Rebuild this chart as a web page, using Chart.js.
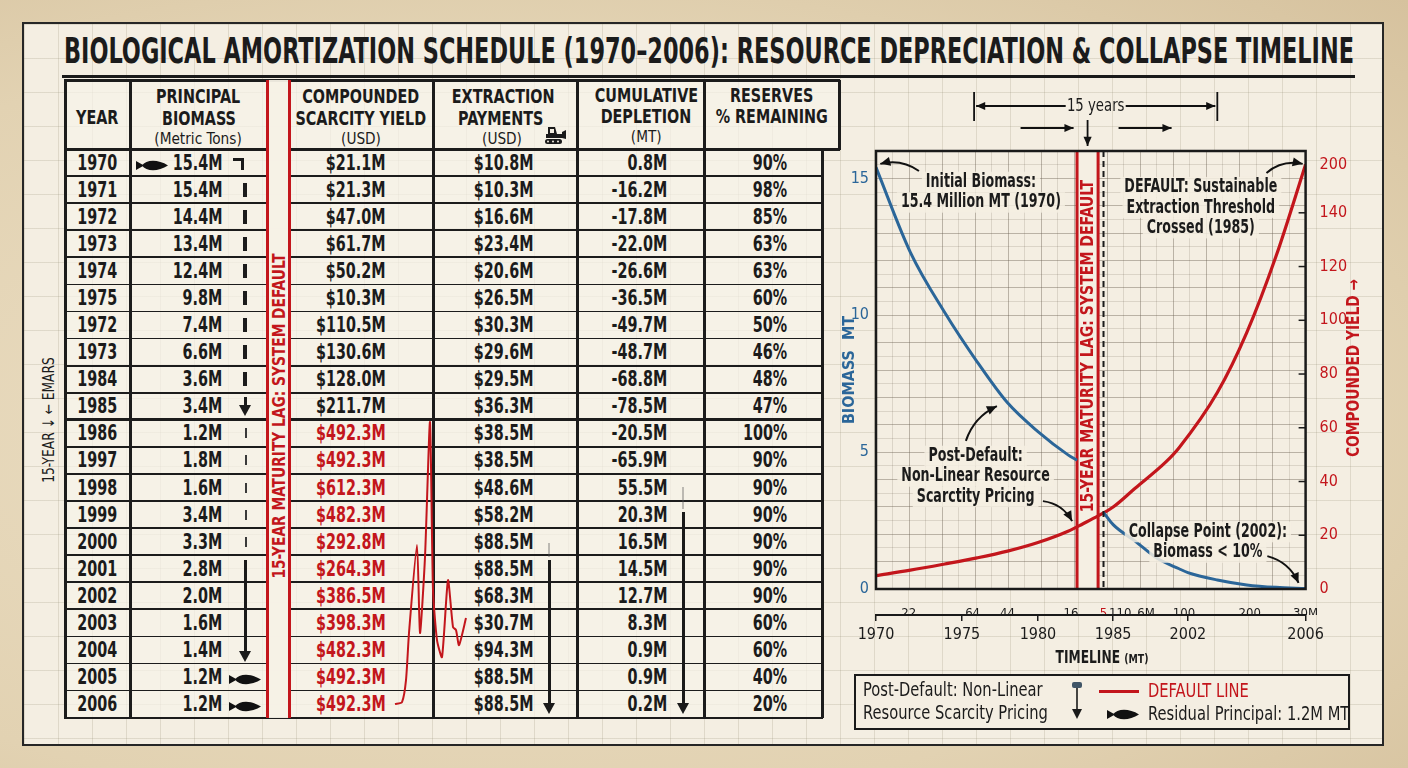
<!DOCTYPE html>
<html lang="en">
<head>
<meta charset="utf-8">
<title>Biological Amortization Schedule</title>
<script src="https://cdn.jsdelivr.net/npm/chart.js@4.4.1/dist/chart.umd.min.js"></script>
<style>
  html, body { margin: 0; padding: 0; }
  body {
    width: 1408px; height: 768px; position: relative; overflow: hidden;
    background: radial-gradient(ellipse at 35% 55%, #ecdfc5 0%, #e2d2b2 65%, #d6c29e 100%);
    font-family: "Liberation Sans Narrow", "DejaVu Sans Condensed", "Liberation Sans", sans-serif;
    color: #1b1b1b;
  }
  .abs { position: absolute; }
  .sq { display: inline-block; white-space: nowrap; }
  #sheet {
    left: 22px; top: 22px; width: 1358px; height: 720px; border: 2px solid #262626;
    background-color: #f4eee2;
    background-image:
      linear-gradient(to right, rgba(150,138,115,.22) 1px, transparent 1px),
      linear-gradient(to bottom, rgba(150,138,115,.22) 1px, transparent 1px);
    background-size: 34px 34px;
  }
  #title { left: 64px; top: 30px; height: 42px; line-height: 42px; white-space: nowrap; font-weight: bold; font-size: 35px; }
  #titleText { display: inline-block; transform-origin: left center; }
  #rule { left: 62px; top: 75px; width: 1293px; height: 3px; background: #1a1a1a; }
  .hd { font-weight: bold; font-size: 19px; }
  .sub { font-size: 16px; }
  .cell { font-weight: bold; font-size: 21px; }
  #legend { left: 854px; top: 674px; width: 492px; height: 52px; border: 2px solid #1a1a1a; background: #f4eee2; font-size: 19px; }
  #legend .sq { transform: scaleX(0.86); transform-origin: left center; }
</style>
</head>
<body>
<div id="sheet" class="abs"></div>
<div id="title" class="abs"><span id="titleText">BIOLOGICAL AMORTIZATION SCHEDULE (1970–2006): RESOURCE DEPRECIATION &amp; COLLAPSE TIMELINE</span></div>
<div id="rule" class="abs"></div>
<div id="table" class="abs" style="left:0;top:0;"></div>
<canvas id="spark" class="abs" width="80" height="298" style="left:390px;top:419px;"></canvas>
<canvas id="chart" class="abs" width="540" height="590" style="left:838px;top:84px;"></canvas>
<div class="abs" style="left:1002px;top:646px;width:200px;text-align:center;line-height:22px;font-weight:bold;font-size:17px;">
  <span class="sq" style="transform:scaleX(0.8);">TIMELINE <span style="font-size:13px;">(MT)</span></span>
</div>
<div id="legend" class="abs">
  <div class="abs" style="left:7px;top:2px;line-height:23px;"><span class="sq">Post-Default: Non-Linear</span><br><span class="sq">Resource Scarcity Pricing</span></div>
  <svg class="abs" style="left:214px;top:6px;" width="14" height="38" viewBox="0 0 14 38">
    <rect x="2" y="0" width="10" height="6" rx="2" fill="#3f5466"/>
    <line x1="7" y1="6" x2="7" y2="28" stroke="#1a1a1a" stroke-width="1.6"/>
    <path d="M2 27 L12 27 L7 37 Z" fill="#1a1a1a"/>
  </svg>
  <div class="abs" style="left:243px;top:14px;width:40px;height:3px;background:#c3161c;"></div>
  <div class="abs" style="left:292px;top:3px;line-height:23px;color:#c3161c;"><span class="sq">DEFAULT LINE</span></div>
  <svg class="abs" style="left:251px;top:32px;" width="32" height="13" viewBox="0 0 32 13">
    <path d="M0 2 L8 6.5 L0 11 Z M6 6.5 C10 0.5 22 0 32 6.5 C22 13 10 12.5 6 6.5 Z" fill="#111"/>
  </svg>
  <div class="abs" style="left:292px;top:26px;line-height:23px;"><span class="sq">Residual Principal: 1.2M MT</span></div>
</div>
<div class="abs" style="left:48px;top:420px;transform:translate(-50%,-50%) rotate(-90deg) scaleX(0.85);white-space:nowrap;font-size:16px;">15-YEAR ↓ ← EMARS</div>

<script>
// ---- table values ----
const rowYears = [1970, 1971, 1972, 1973, 1974, 1975, 1972, 1973, 1984, 1985, 1986, 1997, 1998, 1999, 2000, 2001, 2002, 2003, 2004, 2005, 2006];
const principalBiomass = [15.4, 15.4, 14.4, 13.4, 12.4, 9.8, 7.4, 6.6, 3.6, 3.4, 1.2, 1.8, 1.6, 3.4, 3.3, 2.8, 2.0, 1.6, 1.4, 1.2, 1.2];
const scarcityYield = [21.1, 21.3, 47.0, 61.7, 50.2, 10.3, 110.5, 130.6, 128.0, 211.7, 492.3, 492.3, 612.3, 482.3, 292.8, 264.3, 386.5, 398.3, 482.3, 492.3, 492.3];
const extractionPayments = [10.8, 10.3, 16.6, 23.4, 20.6, 26.5, 30.3, 29.6, 29.5, 36.3, 38.5, 38.5, 48.6, 58.2, 88.5, 88.5, 68.3, 30.7, 94.3, 88.5, 88.5];
const cumulativeDepletion = [0.8, -16.2, -17.8, -22.0, -26.6, -36.5, -49.7, -48.7, -68.8, -78.5, -20.5, -65.9, 55.5, 20.3, 16.5, 14.5, 12.7, 8.3, 0.9, 0.9, 0.2];
const reservesPct = [90, 98, 85, 63, 63, 60, 50, 46, 48, 47, 100, 90, 90, 90, 90, 90, 90, 60, 60, 40, 20];
const defaultRow = 10; // first post-default row

// ---- chart values ----
const biomassYears = [1970, 1972, 1974, 1976, 1978, 1980, 1982, 1982.6, 1983.3, 1984.36, 1985, 1990, 1995, 2000, 2002, 2003, 2004, 2005, 2006];
const biomassMT = [15.4, 12.3, 10.1, 8.3, 6.8, 5.75, 4.9, 4.7, null, 2.8, 2.35, 1.75, 1.12, 0.74, 0.6, 0.33, 0.15, 0.06, 0.02];
const yieldYears = [1970, 1972, 1974, 1976, 1978, 1980, 1982, 1983, 1984, 1985, 1990, 1997, 2000, 2003, 2004, 2005, 2006];
const compoundedYield = [5.0, 7.0, 9.3, 11.6, 14.1, 17.3, 21.5, 24.3, 27.2, 30.5, 37.5, 47.3, 52.6, 73.1, 95.4, 124, 158];
const yearTicks = [1970, 1975, 1980, 1985, 2002, 2006];
const subTickYears = [1971.9, 1975.7, 1978, 1982.2, 1984.36, 1986.6, 1992.5, 2001.1, 2004.1, 2006];
const subTickLabels = ['22', '64', '44', '16', '5', '110', '6M', '100', '200', '30M'];
const biomassTicks = [0, 5, 10, 15];
const yieldTickValues = [0, 20, 40, 60, 80, 100, 120, 140, 158];
const yieldTickLabels = ['0', '20', '40', '60', '80', '100', '120', '140', '200'];
const lagStart = 1982.6, lagEnd = 1984.0, defaultYear = 1984.36;

// sparkline scribble in the yield column
const sparkSwing = [5, 12, 16, 19, 27, 30, 35, 40, 43, 47, 52, 58, 63, 66, 69, 76];
const sparkRow = [10.52, 10.45, 9.64, 7.9, 4.65, 7.9, 5.1, 0.11, 6.31, 8.16, 8.79, 5.95, 7.68, 7.79, 8.35, 7.35];

const FONT = '"Liberation Sans Narrow", "DejaVu Sans Condensed", "Liberation Sans", sans-serif';
const BLUE = '#2b6699', RED = '#c3161c', INK = '#1b1b1b';
const GRID_MAJOR = 'rgba(105,95,80,0.42)', GRID_MINOR = 'rgba(105,95,80,0.18)';

// fit the title across the sheet
const tspan = document.getElementById('titleText');
tspan.style.transform = 'scaleX(' + (1290 / tspan.getBoundingClientRect().width) + ')';

// ---- table ----
const tbl = document.getElementById('table');
const squeeze = { hd: 0.84, cell: 0.76, sub: 0.95 };
function box(x, y, w, h, css) {
    const d = document.createElement('div');
    d.className = 'abs';
    d.style.cssText = `left:${x}px;top:${y}px;width:${w}px;height:${h}px;` + (css || '');
    tbl.appendChild(d);
    return d;
}
function text(str, x, y, align, cls, css) {
    const w = 220;
    const left = align === 'right' ? x - w : x - w / 2;
    const d = box(left, y - 14, w, 28, `line-height:28px;text-align:${align};white-space:nowrap;` + (css || ''));
    d.className += ' ' + cls;
    const s = document.createElement('span');
    s.className = 'sq';
    s.style.transform = 'scaleX(' + squeeze[cls] + ')';
    s.style.transformOrigin = align === 'right' ? 'right center' : 'center center';
    s.textContent = str;
    d.appendChild(s);
    return d;
}
function fish(x, yc) {
    const d = box(x, yc - 6, 32, 13, '');
    d.innerHTML = '<svg width="32" height="13" viewBox="0 0 32 13"><path d="M0 2 L8 6.5 L0 11 Z M6 6.5 C10 0.5 22 0 32 6.5 C22 13 10 12.5 6 6.5 Z" fill="#111"/></svg>';
}
function downArrow(x, y1, y2, lineCss) {
    box(x - 1, y1, 2.5, y2 - y1 - 8, lineCss || 'background:#1a1a1a;');
    box(x - 6, y2 - 10, 0, 0, 'border-left:6px solid transparent;border-right:6px solid transparent;border-top:11px solid #1a1a1a;');
}

const headTop = 80, bodyTop = 149, rowH = 27.08, bodyBottom = bodyTop + rowYears.length * rowH;
const LINE = 'background:#1c1c1c;';

box(65, headTop, 774, bodyTop - headTop, 'background:rgba(247,243,233,0.7);');
box(65, bodyTop, 757, bodyBottom - bodyTop, 'background:rgba(247,243,233,0.7);');

// horizontal rules
box(64, headTop - 1, 776, 2.5, LINE);
box(64, bodyTop - 1, 203, 2.5, LINE);
box(289, bodyTop - 1, 551, 2.5, LINE);
for (let i = 1; i < rowYears.length; i++) {
    const y = bodyTop + i * rowH;
    const t = i === defaultRow ? 3 : 1.8;
    box(64, y - t / 2, 203, t, LINE);
    box(289, y - t / 2, 534, t, LINE);
}
box(64, bodyBottom - 1, 759, 2.5, LINE);
// vertical rules
[65, 130, 433, 577, 704].forEach(x => box(x - 1, headTop, 2.5, bodyBottom - headTop, LINE));
box(821, bodyTop, 2.5, bodyBottom - bodyTop, LINE);
box(838, headTop, 2.5, bodyTop - headTop + 1, LINE);
// maturity lag band
box(268, headTop, 21, bodyBottom - headTop, 'background:rgba(246,241,230,0.95);');
box(265.5, headTop, 3, bodyBottom - headTop, 'background:' + RED + ';');
box(287.5, headTop, 3, bodyBottom - headTop, 'background:' + RED + ';');
const bandTxt = box(278, 416, 0, 0, '');
bandTxt.innerHTML = '<div style="position:absolute;left:0;top:0;transform:translate(-50%,-50%) rotate(-90deg) scaleX(0.85);white-space:nowrap;font-weight:bold;font-size:18px;color:' + RED + ';">15-YEAR MATURITY LAG: SYSTEM DEFAULT</div>';

// header
text('YEAR', 97.5, 117, 'center', 'hd');
text('PRINCIPAL', 198.5, 96, 'center', 'hd');
text('BIOMASS', 198.5, 118, 'center', 'hd');
text('(Metric Tons)', 198.5, 139, 'center', 'sub');
text('COMPOUNDED', 361, 96, 'center', 'hd');
text('SCARCITY YIELD', 361, 118, 'center', 'hd');
text('(USD)', 361, 139, 'center', 'sub');
text('EXTRACTION', 503, 96, 'center', 'hd');
text('PAYMENTS', 501, 118, 'center', 'hd');
text('(USD)', 502, 139, 'center', 'sub');
text('CUMULATIVE', 646, 95, 'center', 'hd');
text('DEPLETION', 646, 116, 'center', 'hd');
text('(MT)', 646, 137, 'center', 'sub');
text('RESERVES', 772, 95, 'center', 'hd');
text('% REMAINING', 772, 116, 'center', 'hd');
const dozer = box(543, 125, 24, 20, '');
dozer.innerHTML = '<svg width="24" height="20" viewBox="0 0 24 20"><path d="M5 2 H12 L14 9 H19 V13 H3 V9 H5 Z" fill="#1a1a1a"/><rect x="7" y="4" width="4" height="4" fill="#f4eee2"/><path d="M19 7 L23 5 L23 14 L19 13 Z" fill="#1a1a1a"/><rect x="2" y="14" width="17" height="5" rx="2.5" fill="#1a1a1a"/><circle cx="5" cy="16.5" r="1" fill="#f4eee2"/><circle cx="10" cy="16.5" r="1" fill="#f4eee2"/><circle cx="15" cy="16.5" r="1" fill="#f4eee2"/></svg>';

// body rows
rowYears.forEach((yr, i) => {
    const yc = bodyTop + (i + 0.5) * rowH;
    const post = i >= defaultRow;
    text(String(yr), 97.5, yc, 'center', 'cell');
    text(principalBiomass[i].toFixed(1) + 'M', 222, yc, 'right', 'cell');
    text('$' + scarcityYield[i].toFixed(1) + 'M', 386, yc, 'right', 'cell', post ? 'color:' + RED + ';' : '');
    text('$' + extractionPayments[i].toFixed(1) + 'M', 534, yc, 'right', 'cell');
    text(cumulativeDepletion[i].toFixed(1) + 'M', 667, yc, 'right', 'cell');
    text(reservesPct[i] + '%', 787, yc, 'right', 'cell');
    // trend markers beside the biomass figures
    if (i === 0) box(233, yc - 5, 11, 12, 'border-top:3px solid #1a1a1a;border-right:3px solid #1a1a1a;box-sizing:border-box;');
    else if (i < 9) box(243, yc - 7, 3.5, 14, LINE);
    else if (i === 9) downArrow(245, yc - 9, yc + 9);
    else if (i < 15) box(244.5, yc - 5, 2, 10, 'background:#3a3a3a;');
});
fish(136, bodyTop + 0.5 * rowH);
downArrow(245, 560, 661);
fish(229, bodyTop + 19.5 * rowH);
fish(229, bodyTop + 20.5 * rowH);
box(548, 543, 2, 14, 'background:rgba(80,80,80,0.35);');
downArrow(549, 560, 713);
box(682, 487, 2, 22, 'background:rgba(80,80,80,0.35);');
downArrow(683, 512, 713);

// ---- sparkline scribble ----
new Chart(document.getElementById('spark'), {
    type: 'line',
    data: {
        datasets: [{
            data: sparkSwing.map((x, i) => ({ x: x, y: sparkRow[i] })),
            borderColor: RED, borderWidth: 2, pointRadius: 0, tension: 0.2, clip: false
        }]
    },
    options: {
        responsive: false, animation: false,
        plugins: { legend: { display: false }, tooltip: { enabled: false } },
        scales: {
            x: { type: 'linear', display: false, min: 0, max: 80 },
            y: { type: 'linear', display: false, min: 0, max: 11, reverse: true }
        }
    }
});

// ---- broken timeline scale ----
const timelineYears = [1970, 1975, 1980, 1985, 2002, 2006];
const timelineStops = [0, 0.2, 0.377, 0.552, 0.726, 1];
function yearToDecimal(v) {
    const b = timelineYears, s = timelineStops;
    let i = 1;
    while (i < b.length - 1 && v > b[i]) i++;
    return s[i - 1] + (v - b[i - 1]) * (s[i] - s[i - 1]) / (b[i] - b[i - 1]);
}
function decimalToYear(d) {
    const b = timelineYears, s = timelineStops;
    let i = 1;
    while (i < s.length - 1 && d > s[i]) i++;
    return b[i - 1] + (d - s[i - 1]) * (b[i] - b[i - 1]) / (s[i] - s[i - 1]);
}
class TimelineScale extends Chart.LinearScale {
    getPixelForValue(v) {
        return (v === null || isNaN(v)) ? NaN : this.getPixelForDecimal(yearToDecimal(v));
    }
    getValueForPixel(p) {
        return decimalToYear(this.getDecimalForPixel(p));
    }
}
TimelineScale.id = 'timeline';
TimelineScale.defaults = Chart.LinearScale.defaults;
Chart.register(TimelineScale);

Chart.defaults.font.family = FONT;
Chart.defaults.color = INK;

// ---- drawing helpers ----
function drawLines(ctx, lines, cx, cy, lh, font, color, sx, bg) {
    ctx.save();
    ctx.font = font;
    ctx.textAlign = 'center';
    ctx.textBaseline = 'middle';
    lines.forEach((t, i) => {
        const w = ctx.measureText(t).width * sx;
        if (bg) {
            ctx.fillStyle = bg;
            ctx.fillRect(cx - w / 2 - 4, cy + i * lh - lh / 2, w + 8, lh);
        }
    });
    lines.forEach((t, i) => {
        ctx.save();
        ctx.translate(cx, cy + i * lh);
        ctx.scale(sx, 1);
        ctx.fillStyle = color;
        ctx.fillText(t, 0, 0);
        ctx.restore();
    });
    ctx.restore();
}
function arrowHead(ctx, x, y, ang, size) {
    ctx.beginPath();
    ctx.moveTo(x, y);
    ctx.lineTo(x - size * Math.cos(ang - 0.42), y - size * Math.sin(ang - 0.42));
    ctx.lineTo(x - size * Math.cos(ang + 0.42), y - size * Math.sin(ang + 0.42));
    ctx.closePath();
    ctx.fill();
}
function curvedArrow(ctx, x1, y1, x2, y2, bend) {
    const dx = x2 - x1, dy = y2 - y1, len = Math.hypot(dx, dy);
    const cx = (x1 + x2) / 2 - dy / len * bend, cy = (y1 + y2) / 2 + dx / len * bend;
    ctx.beginPath();
    ctx.moveTo(x1, y1);
    ctx.quadraticCurveTo(cx, cy, x2, y2);
    ctx.stroke();
    arrowHead(ctx, x2, y2, Math.atan2(y2 - cy, x2 - cx), 11);
}
function straightArrow(ctx, x1, y1, x2, y2) {
    ctx.beginPath();
    ctx.moveTo(x1, y1);
    ctx.lineTo(x2, y2);
    ctx.stroke();
    arrowHead(ctx, x2, y2, Math.atan2(y2 - y1, x2 - x1), 10);
}

const notes = [
    { lines: ['Initial Biomass:', '15.4 Million MT (1970)'], x: 1976.25, y: 14.87 },
    { lines: ['DEFAULT: Sustainable', 'Extraction Threshold', 'Crossed (1985)'], x: 2002.44, y: 14.68 },
    { lines: ['Post-Default:', 'Non-Linear Resource', 'Scarctity Pricing'], x: 1975.9, y: 4.86 },
    { lines: ['Collapse Point (2002):', 'Biomass < 10%'], x: 2002.68, y: 2.08 }
];
const pointers = [
    { from: [1972.5, 15.27], to: [1970.25, 15.53], bend: 9 },
    { from: [2004.67, 15.2], to: [2005.9, 15.53], bend: -9 },
    { from: [1975.26, 5.41], to: [1977.3, 6.68], bend: -10 },
    { from: [1980.33, 3.21], to: [1982.27, 2.48], bend: -9 },
    { from: [2004.7, 1.2], to: [2005.76, 0.22], bend: -10 }
];

const annotationPlugin = {
    id: 'annotations',
    beforeDraw(chart) {
        const { ctx, chartArea: a } = chart;
        ctx.save();
        ctx.fillStyle = '#f4eee2';
        ctx.fillRect(a.left, a.top, a.right - a.left, a.bottom - a.top);
        ctx.restore();
    },
    beforeDatasetsDraw(chart) {
        const { ctx, chartArea: a, scales } = chart;
        const x0 = scales.x.getPixelForValue(lagStart), x1 = scales.x.getPixelForValue(lagEnd);
        ctx.save();
        ctx.fillStyle = '#f5efe3';
        ctx.fillRect(x0, a.top, x1 - x0, a.bottom - a.top);
        ctx.strokeStyle = RED;
        ctx.lineWidth = 3;
        [x0, x1].forEach(x => {
            ctx.beginPath(); ctx.moveTo(x, a.top); ctx.lineTo(x, a.bottom); ctx.stroke();
        });
        ctx.translate((x0 + x1) / 2, a.top + 195);
        ctx.rotate(-Math.PI / 2);
        ctx.scale(0.92, 1);
        ctx.font = 'bold 17px ' + FONT;
        ctx.fillStyle = RED;
        ctx.textAlign = 'center';
        ctx.textBaseline = 'middle';
        ctx.fillText('15-YEAR MATURITY LAG: SYSTEM DEFAULT', 0, 1);
        ctx.restore();
    },
    afterDatasetsDraw(chart) {
        const { ctx, chartArea: a, scales } = chart;
        const px = v => scales.x.getPixelForValue(v), py = v => scales.y.getPixelForValue(v);
        ctx.save();
        // default line
        ctx.strokeStyle = '#1a1a1a';
        ctx.lineWidth = 2;
        ctx.setLineDash([6, 4]);
        ctx.beginPath();
        ctx.moveTo(px(defaultYear), a.top);
        ctx.lineTo(px(defaultYear), a.bottom);
        ctx.stroke();
        ctx.setLineDash([]);
        // frame
        ctx.lineWidth = 2.5;
        ctx.strokeRect(a.left, a.top, a.right - a.left, a.bottom - a.top);
        // yield axis tick marks pointing inward
        ctx.lineWidth = 1.5;
        yieldTickValues.slice(1, -1).forEach(v => {
            const y = scales.y1.getPixelForValue(v);
            ctx.beginPath(); ctx.moveTo(a.right - 7, y); ctx.lineTo(a.right, y); ctx.stroke();
        });
        // notes
        notes.forEach(n => drawLines(ctx, n.lines, px(n.x), py(n.y), 20.5, 'bold 19px ' + FONT, INK, 0.74, 'rgba(244,238,226,0.85)'));
        ctx.strokeStyle = '#111';
        ctx.fillStyle = '#111';
        ctx.lineWidth = 2;
        pointers.forEach(p => curvedArrow(ctx, px(p.from[0]), py(p.from[1]), px(p.to[0]), py(p.to[1]), p.bend));
        ctx.restore();
    },
    afterDraw(chart) {
        const { ctx, chartArea: a, scales } = chart;
        const px = v => scales.x.getPixelForValue(v);
        const bc = (px(lagStart) + px(lagEnd)) / 2;
        const l = px(1975.8), r = px(2003);
        ctx.save();
        ctx.strokeStyle = '#111';
        ctx.fillStyle = '#111';
        ctx.lineWidth = 1.8;
        const yTop = a.top - 45;
        [l, r].forEach(x => { ctx.beginPath(); ctx.moveTo(x, yTop - 14); ctx.lineTo(x, yTop + 15); ctx.stroke(); });
        straightArrow(ctx, (l + r) / 2 - 30, yTop, l + 2, yTop);
        straightArrow(ctx, (l + r) / 2 + 30, yTop, r - 2, yTop);
        drawLines(ctx, ['15 years'], (l + r) / 2, yTop, 20, '18px ' + FONT, INK, 0.82, null);
        const y2 = a.top - 23;
        straightArrow(ctx, bc - 67, y2, bc - 14, y2);
        straightArrow(ctx, bc + 31, y2, bc + 84, y2);
        straightArrow(ctx, bc, a.top - 31, bc, a.top - 5);
        // yield axis title, read bottom to top
        ctx.translate(a.right + 49, a.top + 217);
        ctx.rotate(-Math.PI / 2);
        ctx.scale(0.9, 1);
        ctx.font = 'bold 17px ' + FONT;
        ctx.fillStyle = RED;
        ctx.textAlign = 'center';
        ctx.textBaseline = 'middle';
        ctx.fillText('COMPOUNDED YIELD →', 0, 0);
        ctx.restore();
    }
};

new Chart(document.getElementById('chart'), {
    type: 'line',
    data: {
        datasets: [
            {
                label: 'Biomass (MT)',
                data: biomassYears.map((x, i) => ({ x: x, y: biomassMT[i] })),
                borderColor: BLUE, borderWidth: 3, pointRadius: 0,
                cubicInterpolationMode: 'monotone', spanGaps: false,
                xAxisID: 'x', yAxisID: 'y'
            },
            {
                label: 'Compounded Yield',
                data: yieldYears.map((x, i) => ({ x: x, y: compoundedYield[i] })),
                borderColor: RED, borderWidth: 3.2, pointRadius: 0,
                cubicInterpolationMode: 'monotone',
                xAxisID: 'x', yAxisID: 'y1'
            }
        ]
    },
    options: {
        responsive: false,
        animation: false,
        layout: { padding: { top: 67, left: 0, right: 0, bottom: 0 } },
        plugins: { legend: { display: false }, tooltip: { enabled: false } },
        scales: {
            x: {
                type: 'timeline', position: 'bottom', weight: 0, min: 1970, max: 2006,
                afterBuildTicks: s => { s.ticks = subTickYears.map(v => ({ value: v })); },
                afterFit: s => { s.height = 26; },
                ticks: {
                    autoSkip: false, maxRotation: 0, padding: 9,
                    font: { size: 13 },
                    color: c => c.index === 4 ? RED : INK,
                    callback: (v, i) => subTickLabels[i]
                },
                grid: { display: false },
                border: { display: false }
            },
            x2: {
                type: 'timeline', position: 'bottom', weight: 1, min: 1970, max: 2006,
                afterBuildTicks: s => { s.ticks = yearTicks.map(v => ({ value: v })); },
                afterFit: s => { s.height = 59; },
                ticks: {
                    autoSkip: false, maxRotation: 0, padding: 4,
                    font: { size: 16 }, color: INK,
                    callback: v => String(v)
                },
                grid: { display: true, drawOnChartArea: false, drawTicks: true, tickLength: 6, color: '#1a1a1a', lineWidth: 1.5 },
                border: { display: true, color: '#1a1a1a', width: 2 }
            },
            y: {
                position: 'left', min: 0, max: 16,
                afterFit: s => { s.width = 38; },
                ticks: {
                    stepSize: 0.5, autoSkip: false, padding: 7,
                    color: BLUE, font: { size: 16 },
                    callback: v => biomassTicks.includes(v) ? String(v) : ''
                },
                grid: {
                    drawTicks: false, lineWidth: 1,
                    color: c => Number.isInteger(c.tick.value) ? GRID_MAJOR : GRID_MINOR
                },
                border: { display: false },
                title: { display: true, text: 'BIOMASS  MT', color: BLUE, font: { size: 16, weight: 'bold' }, padding: { top: 2, bottom: 0 } }
            },
            y1: {
                position: 'right', min: 0, max: 163,
                afterFit: s => { s.width = 72.4; },
                afterBuildTicks: s => { s.ticks = yieldTickValues.map(v => ({ value: v })); },
                ticks: {
                    autoSkip: false, padding: 6, color: RED, font: { size: 16 },
                    callback: (v, i) => yieldTickLabels[i]
                },
                grid: { display: false },
                border: { display: false }
            },
            xg: {
                type: 'linear', position: 'top', min: 0, max: 26,
                afterFit: s => { s.height = 0; },
                ticks: { display: false, stepSize: 1 },
                grid: {
                    drawTicks: false, lineWidth: 1,
                    color: c => c.tick.value % 2 === 0 ? GRID_MAJOR : GRID_MINOR
                },
                border: { display: false }
            }
        }
    },
    plugins: [annotationPlugin]
});
</script>
</body>
</html>
